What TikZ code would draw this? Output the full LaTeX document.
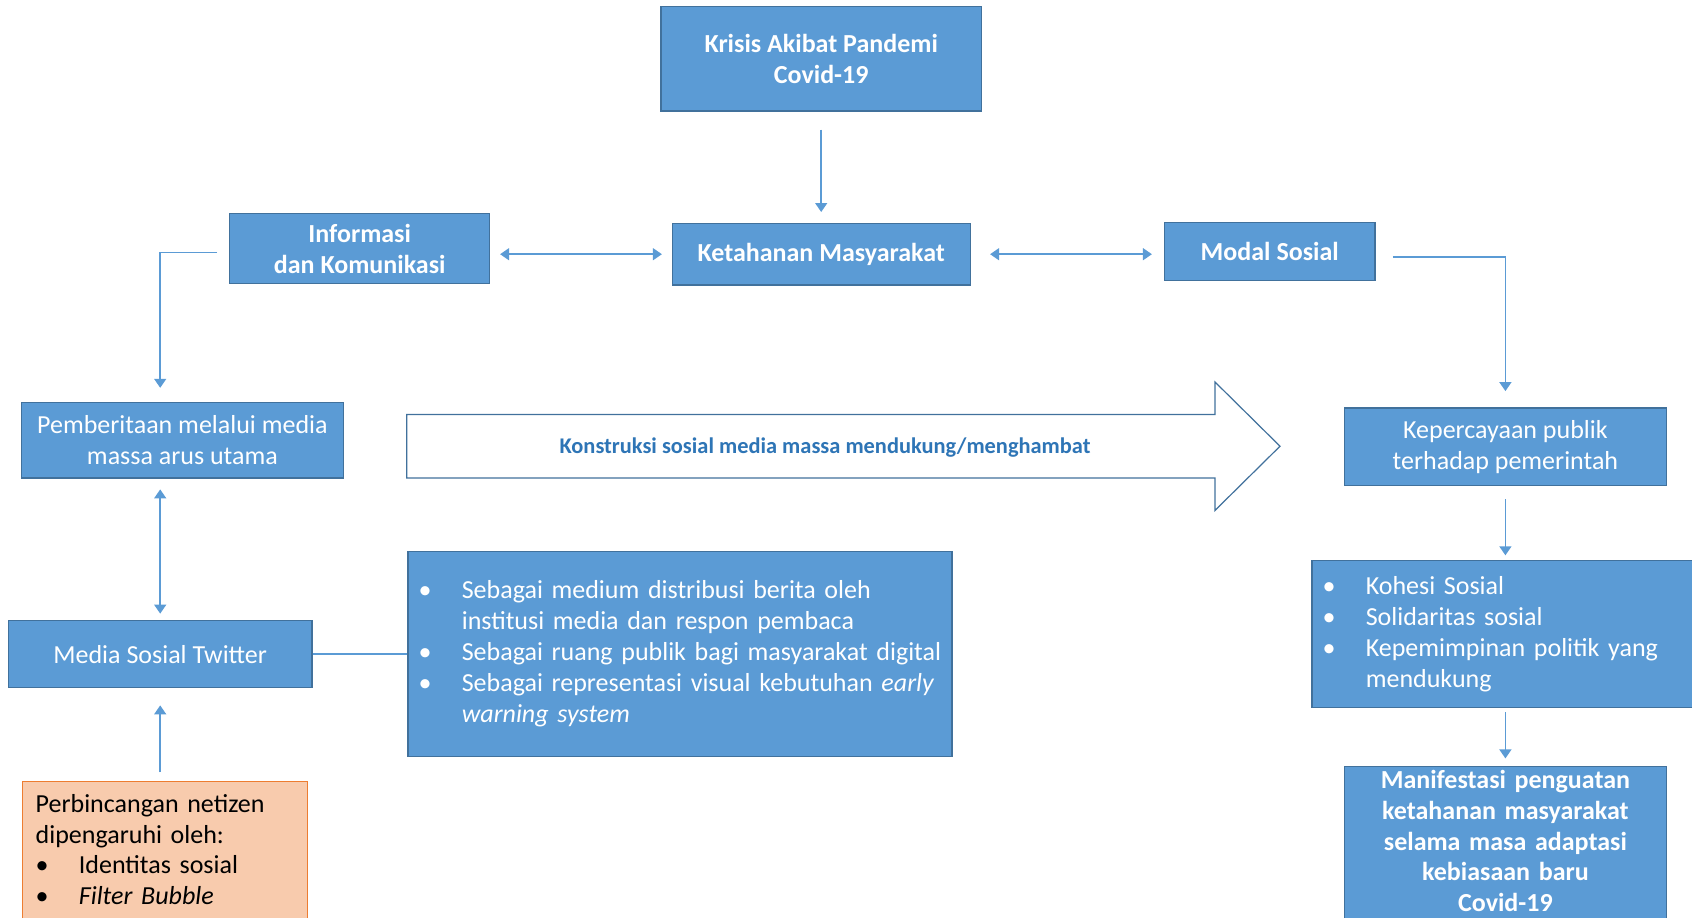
\documentclass[tikz,border=0pt]{standalone}
\usepackage{fontspec}
\setmainfont{Carlito}
\usetikzlibrary{positioning}
\usetikzlibrary{arrows.meta}

\definecolor{boxfill}{HTML}{5B9BD5}
\definecolor{boxline}{HTML}{41719C}
\definecolor{linkblue}{HTML}{5B9BD5}
\definecolor{notefill}{HTML}{F8CBAD}
\definecolor{noteline}{HTML}{ED7D31}
\definecolor{arrowtext}{HTML}{2E75B6}

\newcommand\butir[1]{\makebox[21.6pt][l]{\textbullet}#1}
\newcommand\lanjut{\hspace*{21.6pt}}

\begin{document}
\begin{tikzpicture}[>={Triangle[width=6pt,length=4.5pt]}]
	\tikzset{
		bluebox/.style={rectangle, draw=boxline, fill=boxfill, line width=0.6pt, text=white, align=center, inner sep=0pt, font=\fontsize{13}{15.3}\selectfont},
		titlebox/.style={bluebox, font=\fontsize{13}{15.3}\selectfont\bfseries},
		listbox/.style={bluebox, align=left, inner xsep=5.3pt, font=\fontsize{13}{15.5}\selectfont},
		notebox/.style={rectangle, draw=noteline, fill=notefill, line width=0.6pt, text=black, align=left, inner xsep=6.5pt, inner ysep=0pt, font=\fontsize{13}{15.3}\selectfont},
		link/.style={draw=linkblue, line width=0.75pt},
		bigarrow/.style={draw=boxline, line width=0.6pt, fill=white},
	}
	\useasboundingbox (0,0) rectangle (846pt,-458.5pt);

	\node[titlebox, minimum width=148.9pt, minimum height=30.8pt] (ketahanan) at (410.6pt,-127.1pt) {Ketahanan Masyarakat};
	\node[titlebox, minimum width=160.3pt, minimum height=52.3pt, above=55.6pt of ketahanan] (krisis) {Krisis Akibat Pandemi\\Covid-19};
	\node[titlebox, minimum width=130pt, minimum height=35pt, left=90.7pt of ketahanan, yshift=2.7pt] (informasi) {Informasi\\dan Komunikasi};
	\node[titlebox, minimum width=105.2pt, minimum height=29.2pt, right=96.6pt of ketahanan, yshift=1.4pt] (modal) {Modal Sosial};

	\draw[link, ->, shorten <=9pt, shorten >=5.4pt] (krisis) -- (ketahanan);
	\draw[link, <->, shorten <=4.9pt, shorten >=4.9pt] (informasi.east |- ketahanan.west) -- (ketahanan.west);
	\draw[link, <->, shorten <=9.7pt, shorten >=6pt] (ketahanan.east) -- (modal.west |- ketahanan.east);

	\node[bluebox, minimum width=160.8pt, minimum height=38.9pt] (kepercayaan) at (752.7pt,-223.4pt) {Kepercayaan publik\\terhadap pemerintah};
	\node[listbox, text width=182.8pt, minimum height=73.4pt, below=36.7pt of kepercayaan] (kohesi) {\butir{Kohesi Sosial}\\\butir{Solidaritas sosial}\\\butir{Kepemimpinan politik yang}\\\lanjut mendukung};
	\node[titlebox, text width=160.8pt, minimum height=77.5pt, below=29.15pt of kohesi] (manifestasi) {Manifestasi penguatan\\ketahanan masyarakat\\selama masa adaptasi\\kebiasaan baru\\Covid-19\par\vspace*{3pt}};

	\draw[link, ->, shorten >=8.1pt] ([xshift=8.7pt,yshift=-2.7pt]modal.east) -| (kepercayaan.north);
	\draw[link, ->, shorten <=6.5pt, shorten >=2.2pt] (kepercayaan.south) -- (kepercayaan.south |- kohesi.north);
	\draw[link, ->, shorten <=2.2pt, shorten >=3.8pt] (manifestasi.north |- kohesi.south) -- (manifestasi.north);

	\node[bluebox, minimum width=160.8pt, minimum height=37.8pt] (pemberitaan) at (91.2pt,-220.1pt) {Pemberitaan melalui media\\massa arus utama};
	\node[bluebox, minimum width=151.7pt, minimum height=33.5pt, below=70.7pt of pemberitaan, xshift=-11.1pt] (twitter) {Media Sosial Twitter};
	\node[notebox, text width=129.4pt, minimum height=71pt, below=46.35pt of twitter, xshift=2.45pt] (netizen) {Perbincangan netizen\\dipengaruhi oleh:\\\butir{Identitas sosial}\\\butir{\textit{Filter Bubble}}\par\vspace*{3pt}};
	\node[listbox, text width=261.4pt, minimum height=102.5pt, right=47.45pt of twitter] (peran) {\butir{Sebagai medium distribusi berita oleh}\\\lanjut institusi media dan respon pembaca\\\butir{Sebagai ruang publik bagi masyarakat digital}\\\butir{Sebagai representasi visual kebutuhan \textit{early}}\\\lanjut\textit{warning system}};

	\draw[link, ->, shorten >=7pt] ([xshift=-6pt,yshift=-1.9pt]informasi.west) -| (twitter.north |- pemberitaan.north);
	\draw[link, <->, shorten <=5.4pt, shorten >=3.2pt] (twitter.north |- pemberitaan.south) -- (twitter.north);
	\draw[link, ->, shorten <=4.3pt, shorten >=8.6pt] (twitter.south |- netizen.north) -- (twitter.south);
	\draw[link] (twitter.east) -- (twitter.east -| peran.west);

	% panah besar
	\draw[bigarrow] (203.4pt,-207.2pt) -- (607.5pt,-207.2pt) -- (607.5pt,-191pt) -- (640pt,-223.1pt) -- (607.5pt,-255.2pt) -- (607.5pt,-239pt) -- (203.4pt,-239pt) -- cycle;
	\node[font=\fontsize{11.2}{13}\selectfont\bfseries, text=arrowtext] (konstruksi) at (412.5pt,-224pt) {Konstruksi sosial media massa mendukung/menghambat};
\end{tikzpicture}
\end{document}
